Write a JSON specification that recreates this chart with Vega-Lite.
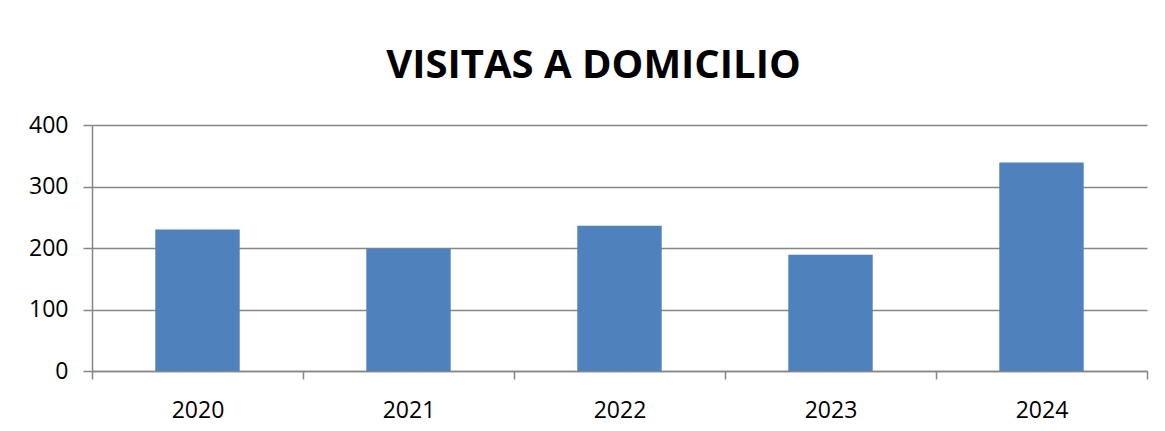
{
  "$schema": "https://vega.github.io/schema/vega-lite/v6.json",
  "width": 1055,
  "height": 246,
  "autosize": "none",
  "padding": {"left": 92, "top": 125, "right": 18, "bottom": 60},
  "background": "white",
  "title": {
    "text": "VISITAS A DOMICILIO",
    "font": "Open Sans",
    "fontSize": 40,
    "fontWeight": "bold",
    "color": "#000000",
    "anchor": "middle",
    "baseline": "alphabetic",
    "dx": -26,
    "offset": -4
  },
  "data": {
    "values": [
      {"year": "2020", "visitas": 230},
      {"year": "2021", "visitas": 199},
      {"year": "2022", "visitas": 236},
      {"year": "2023", "visitas": 189},
      {"year": "2024", "visitas": 339}
    ]
  },
  "mark": {"type": "bar", "color": "#4F81BD", "width": {"band": 0.4}},
  "encoding": {
    "x": {
      "field": "year",
      "type": "nominal",
      "scale": {"paddingInner": 0, "paddingOuter": 0},
      "axis": {
        "title": null,
        "labelAngle": 0,
        "labelFont": "Open Sans",
        "labelFontSize": 23,
        "labelColor": "#000000",
        "labelPadding": 20,
        "tickBand": "extent",
        "tickSize": 8,
        "tickColor": "#868686",
        "tickWidth": 1.5,
        "domainColor": "#868686",
        "domainWidth": 1.5,
        "grid": false
      }
    },
    "y": {
      "field": "visitas",
      "type": "quantitative",
      "scale": {"domain": [0, 400]},
      "axis": {
        "title": null,
        "values": [0, 100, 200, 300, 400],
        "labelFont": "Open Sans",
        "labelFontSize": 23,
        "labelColor": "#000000",
        "labelPadding": 15,
        "tickSize": 9,
        "tickColor": "#868686",
        "tickWidth": 1.5,
        "domainColor": "#868686",
        "domainWidth": 1.5,
        "grid": true,
        "gridColor": "#868686",
        "gridWidth": 1.5
      }
    }
  },
  "config": {"view": {"stroke": null}}
}
